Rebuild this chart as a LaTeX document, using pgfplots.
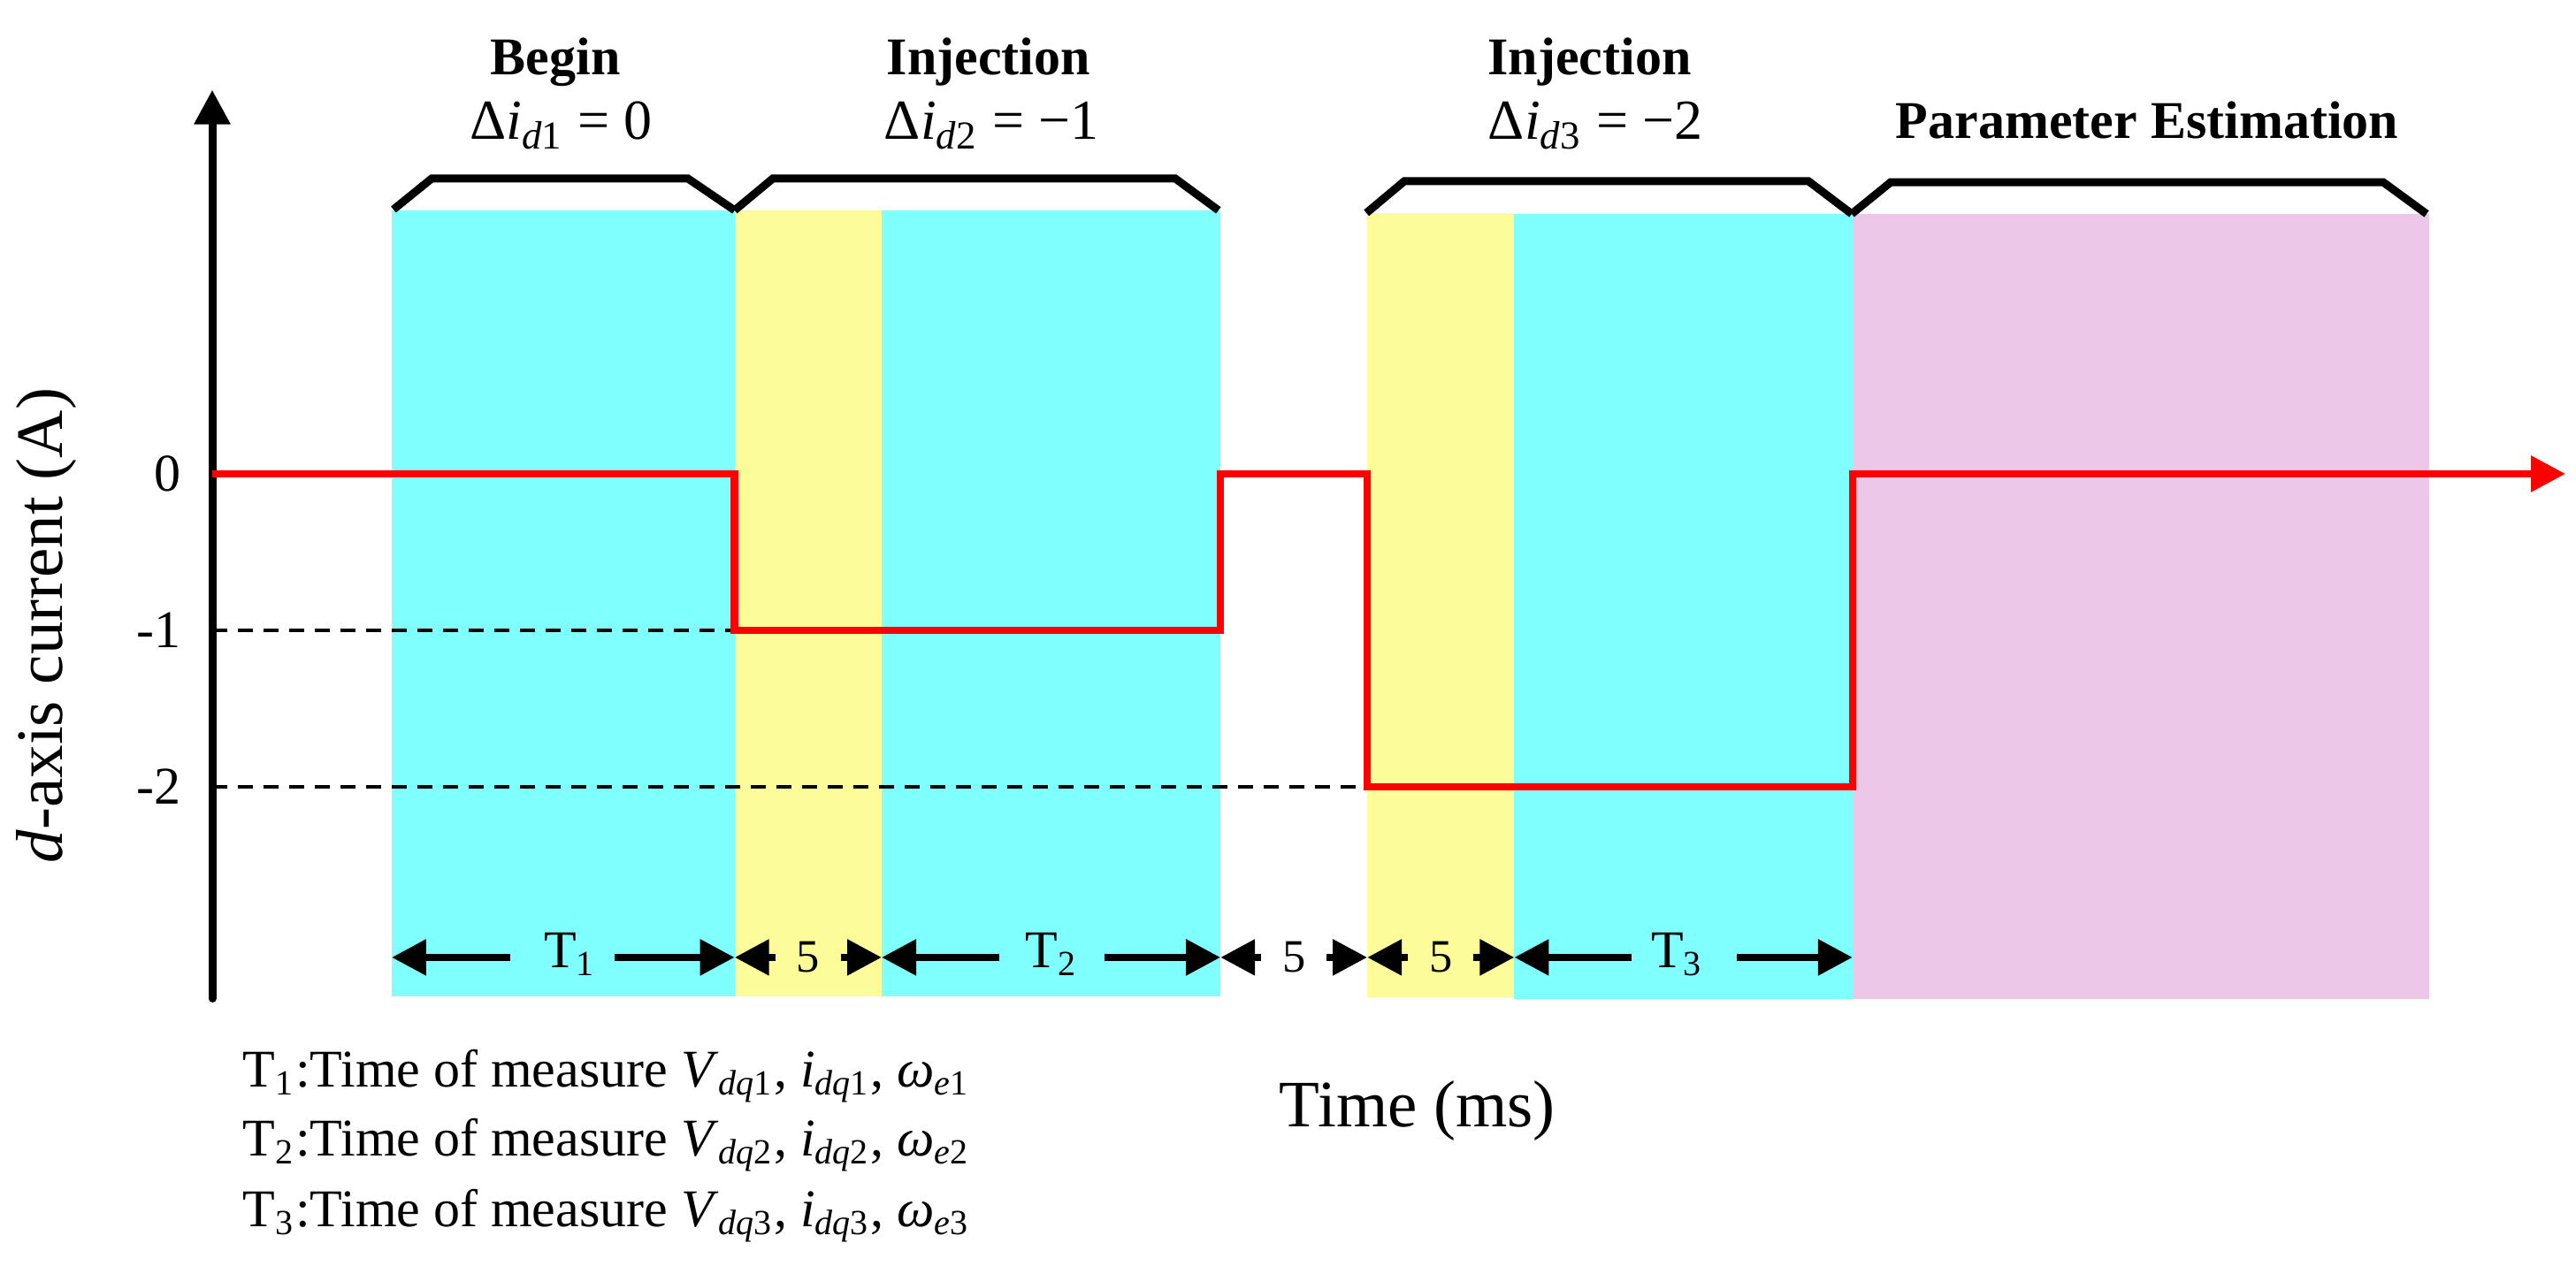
\documentclass[border=0pt]{standalone}
\usepackage{fontspec}
\setmainfont{Liberation Serif}
\usepackage{pgfplots}
\pgfplotsset{compat=1.18}
\usetikzlibrary{arrows.meta}
\definecolor{cyanbg}{RGB}{128,255,255}
\definecolor{yellowbg}{RGB}{252,252,153}
\definecolor{pinkbg}{RGB}{237,199,232}
\newcommand{\nf}{\fontsize{12}{14}\selectfont}
\newcommand{\mf}{\fontsize{12.8}{15}\selectfont}
\newcommand{\bigf}{\fontsize{15}{18}\selectfont}
\begin{document}
\begin{tikzpicture}[
  tip/.style={-{Triangle[length=7.8pt,width=7.8pt]}},
  dim/.style={line width=1.7pt, tip},
  brace/.style={line width=1.8pt, line join=miter}]
\begin{axis}[scale only axis, width=582.6pt, height=286.4pt,
  xmin=-7.273, xmax=81.0, ymin=-5.062, ymax=3.028,
  axis lines=none, clip=false]
% full picture frame (invisible)
\path (rel axis cs:0,0) rectangle (rel axis cs:1,1);
% shaded phases
\addplot[draw=none, fill=cyanbg] coordinates {(6.15,-3.339) (17.9,-3.339) (17.9,1.684) (6.15,1.684)} -- cycle;
\addplot[draw=none, fill=yellowbg] coordinates {(17.9,-3.339) (22.94,-3.339) (22.94,1.684) (17.9,1.684)} -- cycle;
\addplot[draw=none, fill=cyanbg] coordinates {(22.94,-3.339) (34.55,-3.339) (34.55,1.684) (22.94,1.684)} -- cycle;
\addplot[draw=none, fill=yellowbg] coordinates {(39.58,-3.345) (44.62,-3.345) (44.62,1.667) (39.58,1.667)} -- cycle;
\addplot[draw=none, fill=cyanbg] coordinates {(44.62,-3.356) (56.21,-3.356) (56.21,1.661) (44.62,1.661)} -- cycle;
\addplot[draw=none, fill=pinkbg] coordinates {(56.21,-3.356) (75.98,-3.356) (75.98,1.661) (56.21,1.661)} -- cycle;
% dashed reference levels
\addplot[black, line width=0.9pt, dash pattern=on 3.4pt off 2.4pt] coordinates {(0,-1) (17.9,-1)};
\addplot[black, line width=0.9pt, dash pattern=on 3.4pt off 2.4pt] coordinates {(0,-2) (39.58,-2)};
% y axis
\draw[line width=1.8pt, line cap=round, tip] (axis cs:0,-3.353) -- (axis cs:0,2.454);
% d-axis current
\addplot[red, line width=1.7pt, line join=miter, tip] coordinates {
  (0,0) (17.9,0) (17.9,-1) (34.55,-1) (34.55,0) (39.58,0) (39.58,-2) (56.21,-2) (56.21,0) (80.64,0)};
% braces
\draw[brace] (axis cs:6.21,1.689) -- (axis cs:7.52,1.887) -- (axis cs:16.30,1.887) -- (axis cs:17.9,1.684);
\draw[brace] (axis cs:17.9,1.684) -- (axis cs:19.21,1.887) -- (axis cs:33.0,1.887) -- (axis cs:34.48,1.684);
\draw[brace] (axis cs:39.55,1.667) -- (axis cs:40.85,1.870) -- (axis cs:54.70,1.870) -- (axis cs:56.18,1.661);
\draw[brace] (axis cs:56.18,1.661) -- (axis cs:57.52,1.864) -- (axis cs:74.39,1.864) -- (axis cs:75.88,1.661);
% phase labels
\node[anchor=base, font=\nf\bfseries] at (axis cs:11.76,2.548) {Begin};
\node[anchor=base, font=\mf] at (axis cs:11.95,2.136) {Δ\textit{i}\textsubscript{\textit{d}1} = 0};
\node[anchor=base, font=\nf\bfseries] at (axis cs:26.6,2.548) {Injection};
\node[anchor=base, font=\mf] at (axis cs:26.7,2.136) {Δ\textit{i}\textsubscript{\textit{d}2} = −1};
\node[anchor=base, font=\nf\bfseries] at (axis cs:47.2,2.548) {Injection};
\node[anchor=base, font=\mf] at (axis cs:47.4,2.136) {Δ\textit{i}\textsubscript{\textit{d}3} = −2};
\node[anchor=base, font=\nf\bfseries] at (axis cs:66.3,2.141) {Parameter Estimation};
% tick labels
\node[anchor=east, font=\nf] at (axis cs:-0.55,0) {0};
\node[anchor=east, font=\nf] at (axis cs:-0.55,-1) {-1};
\node[anchor=east, font=\nf] at (axis cs:-0.55,-2) {-2};
% duration arrows
\draw[dim] (axis cs:10.21,-3.09) -- (axis cs:6.15,-3.09);
\draw[dim] (axis cs:13.8,-3.09) -- (axis cs:17.9,-3.09);
\node[anchor=base, font=\nf] at (axis cs:12.26,-3.153) {T\textsubscript{1}};
\draw[dim] (axis cs:19.3,-3.09) -- (axis cs:17.9,-3.09);
\draw[dim] (axis cs:21.54,-3.09) -- (axis cs:22.94,-3.09);
\node[font=\fontsize{10.5}{12}\selectfont] at (axis cs:20.42,-3.09) {5};
\draw[dim] (axis cs:26.97,-3.09) -- (axis cs:22.94,-3.09);
\draw[dim] (axis cs:30.58,-3.09) -- (axis cs:34.55,-3.09);
\node[anchor=base, font=\nf] at (axis cs:28.76,-3.153) {T\textsubscript{2}};
\draw[dim] (axis cs:35.95,-3.09) -- (axis cs:34.55,-3.09);
\draw[dim] (axis cs:38.19,-3.09) -- (axis cs:39.58,-3.09);
\node[font=\fontsize{10.5}{12}\selectfont] at (axis cs:37.07,-3.09) {5};
\draw[dim] (axis cs:40.98,-3.09) -- (axis cs:39.58,-3.09);
\draw[dim] (axis cs:43.22,-3.09) -- (axis cs:44.62,-3.09);
\node[font=\fontsize{10.5}{12}\selectfont] at (axis cs:42.1,-3.09) {5};
\draw[dim] (axis cs:48.64,-3.09) -- (axis cs:44.62,-3.09);
\draw[dim] (axis cs:52.23,-3.09) -- (axis cs:56.21,-3.09);
\node[anchor=base, font=\nf] at (axis cs:50.2,-3.153) {T\textsubscript{3}};
% axis titles
\node[rotate=90, font=\bigf] at (axis cs:-5.68,-0.97) {\textit{d}-axis current (A)};
\node[anchor=base, font=\bigf] at (axis cs:41.3,-4.17) {Time (ms)};
% notes
\node[anchor=base west, font=\nf, inner sep=0pt] at (axis cs:1.03,-3.92) {T\textsubscript{1}:Time of measure \textit{V}\textsubscript{\textit{dq}1}, \textit{i}\textsubscript{\textit{dq}1}, \textit{ω}\textsubscript{\textit{e}1}};
\node[anchor=base west, font=\nf, inner sep=0pt] at (axis cs:1.03,-4.36) {T\textsubscript{2}:Time of measure \textit{V}\textsubscript{\textit{dq}2}, \textit{i}\textsubscript{\textit{dq}2}, \textit{ω}\textsubscript{\textit{e}2}};
\node[anchor=base west, font=\nf, inner sep=0pt] at (axis cs:1.03,-4.81) {T\textsubscript{3}:Time of measure \textit{V}\textsubscript{\textit{dq}3}, \textit{i}\textsubscript{\textit{dq}3}, \textit{ω}\textsubscript{\textit{e}3}};
\end{axis}
\end{tikzpicture}
\end{document}
